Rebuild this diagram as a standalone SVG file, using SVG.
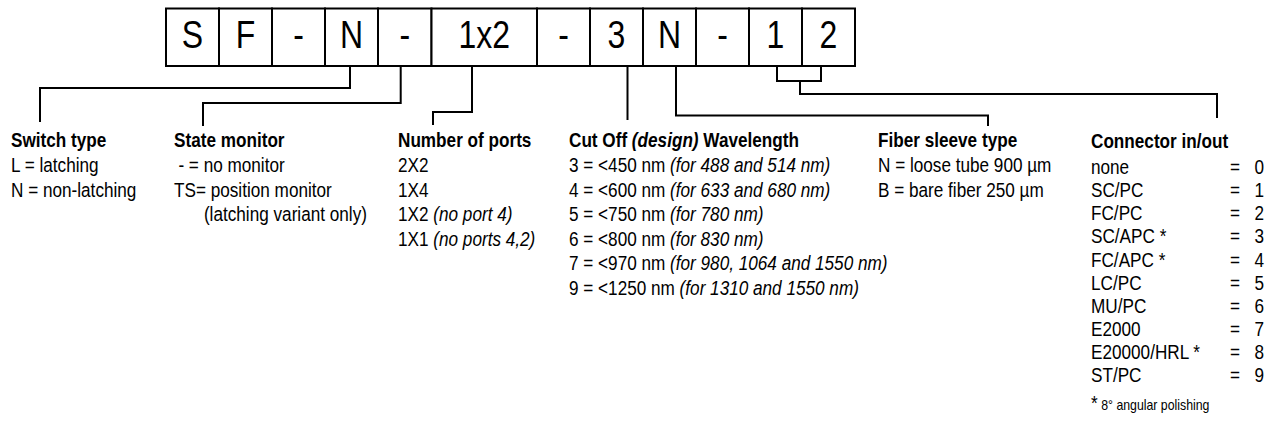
<svg xmlns="http://www.w3.org/2000/svg" width="1275" height="428" viewBox="0 0 1275 428">
<style>
text{font-family:"Liberation Sans",Arial,sans-serif;fill:#000}
.cell rect{fill:#fff;stroke:#000;stroke-width:2}
.cell text{font-size:39px;text-anchor:middle}
.lbl text{font-size:19.5px}
.h{font-weight:bold}
.i{font-style:italic}
.e{text-anchor:end}
.note{font-size:14px}
#connectors path{fill:none;stroke:#000;stroke-width:2}
</style>
<rect width="1275" height="428" fill="#fff"/>
<g id="code">
<g id="c-S" class="cell"><rect x="166" y="8.5" width="53" height="57.5"/><text transform="translate(192.5 48) scale(.82 1)">S</text></g>
<g id="c-F" class="cell"><rect x="219" y="8.5" width="53" height="57.5"/><text transform="translate(245.5 48) scale(.82 1)">F</text></g>
<g id="c-d1" class="cell"><rect x="272" y="8.5" width="53" height="57.5"/><text transform="translate(298.5 48) scale(.82 1)">-</text></g>
<g id="c-N1" class="cell"><rect x="325" y="8.5" width="53" height="57.5"/><text transform="translate(351.5 48) scale(.82 1)">N</text></g>
<g id="c-d2" class="cell"><rect x="378" y="8.5" width="53.5" height="57.5"/><text transform="translate(404.75 48) scale(.82 1)">-</text></g>
<g id="c-1x2" class="cell"><rect x="431.5" y="8.5" width="105.5" height="57.5"/><text transform="translate(484.25 48) scale(.82 1)">1x2</text></g>
<g id="c-d3" class="cell"><rect x="537" y="8.5" width="53" height="57.5"/><text transform="translate(563.5 48) scale(.82 1)">-</text></g>
<g id="c-3" class="cell"><rect x="590" y="8.5" width="53" height="57.5"/><text transform="translate(616.5 48) scale(.82 1)">3</text></g>
<g id="c-N2" class="cell"><rect x="643" y="8.5" width="53" height="57.5"/><text transform="translate(669.5 48) scale(.82 1)">N</text></g>
<g id="c-d4" class="cell"><rect x="696" y="8.5" width="53" height="57.5"/><text transform="translate(722.5 48) scale(.82 1)">-</text></g>
<g id="c-1" class="cell"><rect x="749" y="8.5" width="53" height="57.5"/><text transform="translate(775.5 48) scale(.82 1)">1</text></g>
<g id="c-2" class="cell"><rect x="802" y="8.5" width="53" height="57.5"/><text transform="translate(828.5 48) scale(.82 1)">2</text></g>
</g>
<g id="connectors">
<path d="M350 66V88H40V122"/>
<path d="M400.7 66V103H203V126"/>
<path d="M472 66V112H433V125"/>
<path d="M627.5 66V120"/>
<path d="M676 66V115.5H988V126"/>
<path d="M777 66V81H821V66M800 81V94H1217V118"/>
</g>
<g id="switch-type" class="lbl" transform="translate(11 0) scale(.88 1)">
<text class="h" y="147.5">Switch type</text>
<text y="172">L = latching</text>
<text y="196.6">N = non-latching</text>
</g>
<g id="state-monitor" class="lbl" transform="translate(174 0) scale(.88 1)">
<text class="h" y="147.5">State monitor</text>
<text x="5" y="172">- = no monitor</text>
<text y="196.6">TS= position monitor</text>
<text x="34" y="221.2">(latching variant only)</text>
</g>
<g id="ports" class="lbl" transform="translate(398 0) scale(.88 1)">
<text class="h" y="147.5">Number of ports</text>
<text y="172">2X2</text>
<text y="196.6">1X4</text>
<text y="221.2">1X2 <tspan class="i">(no port 4)</tspan></text>
<text y="245.8">1X1 <tspan class="i">(no ports 4,2)</tspan></text>
</g>
<g id="cutoff" class="lbl" transform="translate(569 0) scale(.88 1)">
<text class="h" y="147.5">Cut Off <tspan class="i">(design)</tspan> Wavelength</text>
<text y="172">3 = &lt;450 nm <tspan class="i">(for 488 and 514 nm)</tspan></text>
<text y="196.6">4 = &lt;600 nm <tspan class="i">(for 633 and 680 nm)</tspan></text>
<text y="221.2">5 = &lt;750 nm <tspan class="i">(for 780 nm)</tspan></text>
<text y="245.8">6 = &lt;800 nm <tspan class="i">(for 830 nm)</tspan></text>
<text y="270.4">7 = &lt;970 nm <tspan class="i">(for 980, 1064 and 1550 nm)</tspan></text>
<text y="295">9 = &lt;1250 nm <tspan class="i">(for 1310 and 1550 nm)</tspan></text>
</g>
<g id="fiber-sleeve" class="lbl" transform="translate(878 0) scale(.88 1)">
<text class="h" y="147.5">Fiber sleeve type</text>
<text y="172">N = loose tube 900 µm</text>
<text y="196.6">B = bare fiber 250 µm</text>
</g>
<g id="connector" class="lbl" transform="translate(1091 0) scale(.88 1)">
<text class="h" y="148.5">Connector in/out</text>
<text y="174.2">none</text><text x="158" y="174.2">=</text><text class="e" x="196.6" y="174.2">0</text>
<text y="197.3">SC/PC</text><text x="158" y="197.3">=</text><text class="e" x="196.6" y="197.3">1</text>
<text y="220.4">FC/PC</text><text x="158" y="220.4">=</text><text class="e" x="196.6" y="220.4">2</text>
<text y="243.5">SC/APC *</text><text x="158" y="243.5">=</text><text class="e" x="196.6" y="243.5">3</text>
<text y="266.6">FC/APC *</text><text x="158" y="266.6">=</text><text class="e" x="196.6" y="266.6">4</text>
<text y="289.7">LC/PC</text><text x="158" y="289.7">=</text><text class="e" x="196.6" y="289.7">5</text>
<text y="312.8">MU/PC</text><text x="158" y="312.8">=</text><text class="e" x="196.6" y="312.8">6</text>
<text y="335.9">E2000</text><text x="158" y="335.9">=</text><text class="e" x="196.6" y="335.9">7</text>
<text y="359">E20000/HRL *</text><text x="158" y="359">=</text><text class="e" x="196.6" y="359">8</text>
<text y="382.1">ST/PC</text><text x="158" y="382.1">=</text><text class="e" x="196.6" y="382.1">9</text>
<text y="410">*<tspan class="note" dx="4">8° angular polishing</tspan></text>
</g>
</svg>
